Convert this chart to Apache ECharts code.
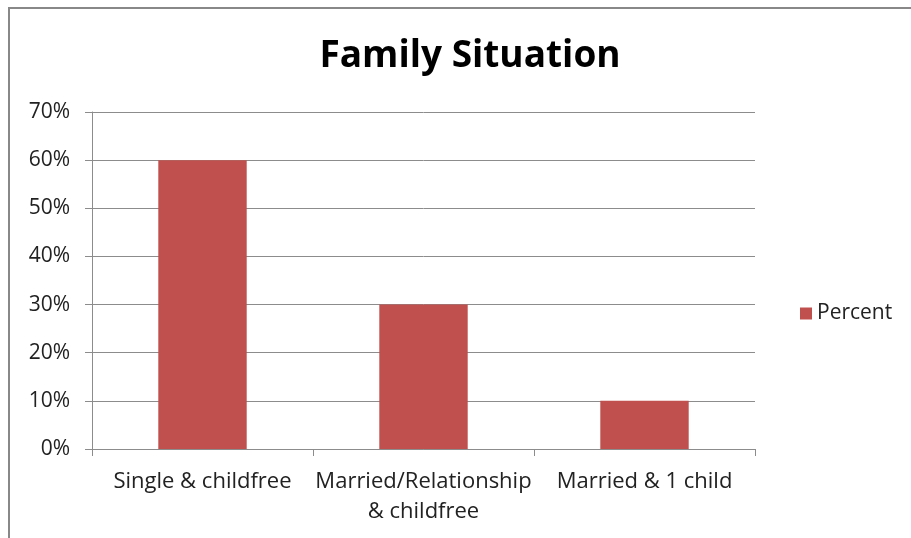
<!DOCTYPE html>
<html>
<head>
<meta charset="utf-8">
<style>
  html, body { margin: 0; padding: 0; background: #fff; }
  #chart { width: 911px; height: 538px; }
</style>
<script src="https://cdn.jsdelivr.net/npm/echarts@6/dist/echarts.min.js"></script>
</head>
<body>
<div id="chart"></div>
<script>
// chart data
const categories = ['Single & childfree', 'Married/Relationship\n& childfree', 'Married & 1 child']
const percentValues = [60, 30, 10]
const yTicks = [0, 10, 20, 30, 40, 50, 60, 70]
const seriesName = 'Percent'

const font = '"Open Sans", "Noto Sans", sans-serif'
const gray = '#8c8c8c'

const chart = echarts.init(document.getElementById('chart'))
chart.setOption({
    animation: false,
    textStyle: { fontFamily: font },
    title: {
        text: 'Family Situation',
        left: 465,
        textAlign: 'center',
        top: 33,
        textStyle: { fontSize: 37, fontWeight: 'bold', color: '#000', fontFamily: font }
    },
    graphic: [{
        type: 'rect',
        shape: { x: 9, y: 8, width: 1000, height: 600 },
        style: { fill: 'none', stroke: '#888', lineWidth: 2 },
        silent: true
    }],
    legend: {
        data: [seriesName],
        left: 795,
        top: 298,
        itemWidth: 12,
        itemHeight: 12,
        itemGap: 7,
        icon: 'rect',
        textStyle: { fontSize: 21, color: '#222', fontFamily: font }
    },
    grid: { left: 92, right: 156, top: 112, bottom: 89 },
    xAxis: {
        type: 'category',
        data: categories,
        axisLine: { lineStyle: { color: gray, width: 1 } },
        axisTick: { show: true, length: 7, lineStyle: { color: gray } },
        axisLabel: { interval: 0, fontSize: 22, color: '#222', margin: 18, lineHeight: 30, fontFamily: font }
    },
    yAxis: {
        type: 'value',
        min: yTicks[0],
        max: yTicks[yTicks.length - 1],
        interval: 10,
        axisLine: { show: true, lineStyle: { color: gray } },
        axisTick: { show: true, length: 7, lineStyle: { color: gray } },
        splitLine: { lineStyle: { color: gray, width: 1 } },
        axisLabel: { fontSize: 21, color: '#222', margin: 22, formatter: '{value}%', fontFamily: font }
    },
    series: [{
        name: seriesName,
        type: 'bar',
        data: percentValues,
        barWidth: '40%',
        itemStyle: { color: '#C0504D' }
    }]
})
</script>
</body>
</html>
